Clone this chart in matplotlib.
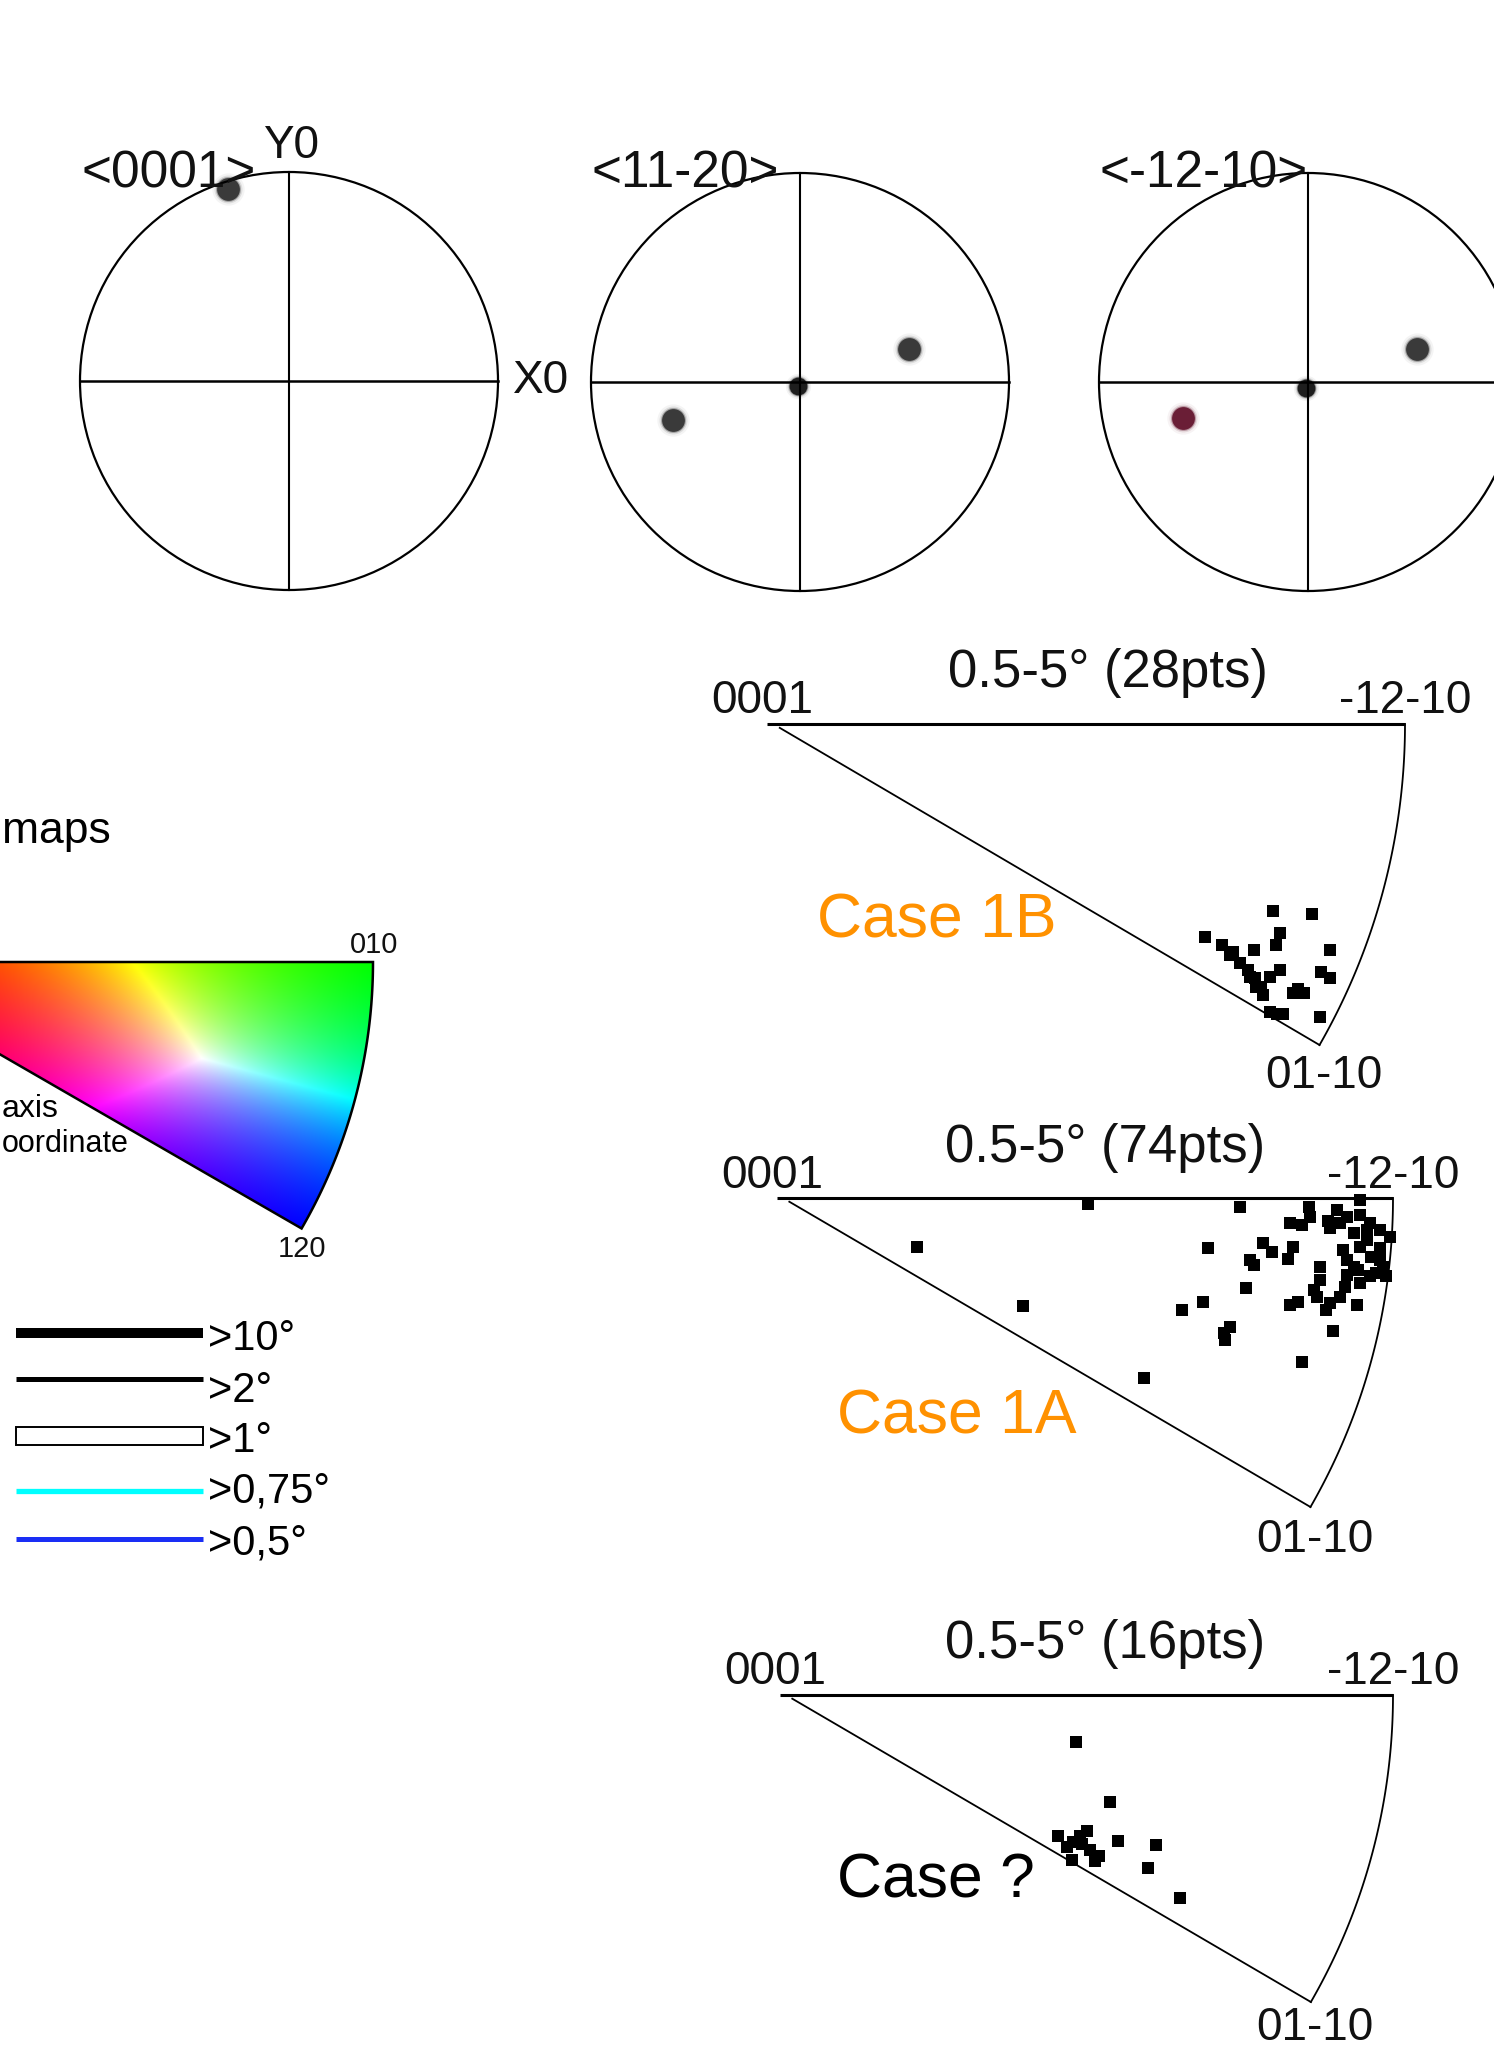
import numpy as np
import matplotlib
matplotlib.use('Agg')
import matplotlib.pyplot as plt
from matplotlib.patches import Circle, Polygon, Rectangle

# ---------------- data ----------------
pole_labels = ['<0001>', '<11-20>', '<-12-10>']
# spot positions in pole-figure units (circle radius = 1)
pole_spots_x = [[-0.29], [0.52, -0.61, -0.01], [0.52, -0.60, -0.01]]
pole_spots_y = [[0.92], [0.16, -0.18, -0.02], [0.16, -0.17, -0.03]]
pole_spots_size = [[0.9], [0.9, 0.9, 0.55], [0.9, 0.9, 0.55]]
pole_spots_color = [['#3a3a3a'], ['#3a3a3a', '#3a3a3a', '#1e1e1e'],
                    ['#3a3a3a', '#6a1e36', '#1e1e1e']]

ipf_titles = ['0.5-5° (28pts)', '0.5-5° (74pts)', '0.5-5° (16pts)']
ipf_corner_labels = ['0001', '-12-10', '01-10']
case_labels = ['Case 1B', 'Case 1A', 'Case ?']
case_colors = ['#FF9100', '#FF9100', '#000000']

# points in standard-triangle coordinates (0001 at origin, -12-10 at (1,0))
case1B_x = [0.687, 0.713, 0.726, 0.741, 0.754, 0.765, 0.775, 0.778, 0.757, 0.763,
            0.804, 0.788, 0.793, 0.854, 0.804, 0.798, 0.882, 0.868, 0.882, 0.825,
            0.841, 0.833, 0.788, 0.809, 0.867, 0.799, 0.767, 0.731]
case1B_y = [-0.331, -0.344, -0.360, -0.373, -0.383, -0.396, -0.409, -0.422, -0.394, -0.352,
            -0.383, -0.394, -0.291, -0.296, -0.325, -0.344, -0.352, -0.386, -0.395, -0.419,
            -0.419, -0.412, -0.448, -0.451, -0.456, -0.451, -0.409, -0.355]

case1A_x = [0.505, 0.752, 0.946, 0.863, 0.865, 0.852, 0.925, 0.946, 0.963, 0.898,
            0.979, 0.995, 0.936, 0.957, 0.919, 0.946, 0.979, 0.936, 0.925, 0.943,
            0.984, 0.881, 0.922, 0.876, 0.898, 0.914, 0.941, 0.892, 0.833, 0.846,
            0.903, 0.852, 0.789, 0.803, 0.838, 0.830, 0.768, 0.774, 0.700, 0.762,
            0.692, 0.657, 0.735, 0.727, 0.595, 0.400, 0.227, 0.881, 0.965, 0.973,
            0.925, 0.895, 0.914, 0.957, 0.988, 0.871, 0.946, 0.963, 0.979, 0.909,
            0.833, 0.725]
case1A_y = [-0.009, -0.014, -0.003, -0.014, -0.030, -0.044, -0.030, -0.028, -0.041, -0.049,
            -0.052, -0.063, -0.057, -0.068, -0.084, -0.079, -0.100, -0.111, -0.125, -0.117,
            -0.111, -0.133, -0.144, -0.160, -0.170, -0.160, -0.173, -0.181, -0.173, -0.168,
            -0.216, -0.265, -0.073, -0.087, -0.079, -0.098, -0.100, -0.108, -0.081, -0.146,
            -0.168, -0.181, -0.208, -0.230, -0.292, -0.175, -0.079, -0.111, -0.095, -0.122,
            -0.100, -0.038, -0.041, -0.052, -0.127, -0.149, -0.138, -0.127, -0.081, -0.019,
            -0.041, -0.219]

caseQ_x = [0.483, 0.538, 0.454, 0.500, 0.478, 0.492, 0.506, 0.514, 0.476, 0.552,
           0.614, 0.601, 0.653, 0.489, 0.468, 0.520]
caseQ_y = [-0.076, -0.174, -0.229, -0.221, -0.240, -0.242, -0.253, -0.270, -0.268, -0.237,
           -0.245, -0.281, -0.330, -0.229, -0.248, -0.262]

legend_labels = ['>10°', '>2°', '>1°', '>0,75°', '>0,5°']
legend_colors = ['#000000', '#000000', '#ffffff', '#00FFFF', '#1A2EF5']
key_labels = ['010', '120']

# ---------------- figure ----------------
W, H = 1494, 2060
fig = plt.figure(figsize=(W / 100, H / 100), dpi=100)
fig.patch.set_facecolor('white')

NARROW = ['Liberation Sans Narrow', 'Liberation Sans']
SANS = ['Liberation Sans', 'DejaVu Sans']


def box(x0, y0, x1, y1):
    ax = fig.add_axes([x0 / W, 1 - y1 / H, (x1 - x0) / W, (y1 - y0) / H])
    ax.set_axis_off()
    return ax


def ftext(x, y, s, **kw):
    kw.setdefault('va', 'baseline')
    fig.text(x / W, 1 - y / H, s, **kw)


# ---------------- pole figures ----------------
centers = [(289, 381), (800, 382), (1308, 382)]
R = 209
for i, (cx, cy) in enumerate(centers):
    ax = box(cx - R, cy - R, cx + R, cy + R)
    ax.set_xlim(-1, 1)
    ax.set_ylim(-1, 1)
    # blurred spots
    for sx, sy, ss, sc in zip(pole_spots_x[i], pole_spots_y[i],
                              pole_spots_size[i], pole_spots_color[i]):
        for k, a in [(2.0, 0.05), (1.5, 0.12), (1.2, 0.35), (1.0, 1.0)]:
            ax.scatter([sx], [sy], s=300 * ss * k, color=sc, alpha=a,
                       linewidths=0, clip_on=False, zorder=2)
    ax.add_patch(Circle((0, 0), 1, fill=False, lw=1.6, ec='black',
                        clip_on=False, zorder=3))
    ax.plot([-1, 1], [0, 0], color='black', lw=1.8, clip_on=False, zorder=3)
    ax.plot([0, 0], [-1, 1], color='black', lw=1.5, clip_on=False, zorder=3)

ftext(82, 188, pole_labels[0], family=NARROW, fontsize=37, color='#111111')
ftext(592, 188, pole_labels[1], family=NARROW, fontsize=37, color='#111111')
ftext(1100, 188, pole_labels[2], family=NARROW, fontsize=37, color='#111111')
ftext(291, 158, 'Y0', family=NARROW, fontsize=33, color='#111111', ha='center')
ftext(513, 381, 'X0', family=NARROW, fontsize=33, color='#111111', va='center')

# ---------------- colour key ----------------
kx0, kx1, ky0, ky1 = 0, 392, 945, 1240
ox, oy, KR = -160, 962, 533
key_ax = box(kx0, ky0, kx1, ky1)
xmin, xmax = (kx0 - ox) / KR, (kx1 - ox) / KR
ymax, ymin = (oy - ky0) / KR, (oy - ky1) / KR
key_ax.set_xlim(xmin, xmax)
key_ax.set_ylim(ymin, ymax)
gx = np.linspace(xmin, xmax, 600)
gy = np.linspace(ymax, ymin, 450)
GX, GY = np.meshgrid(gx, gy)
rr = np.clip(np.hypot(GX, GY), 0, 1)
ph = np.clip(np.degrees(np.arctan2(-GY, GX)) / 30.0, 0, 1)
t = rr ** 1.15
cr, cg, cb = 1 - t, t * (1 - ph), t * ph
mx = np.maximum(np.maximum(cr, cg), cb)
rgb = np.dstack([cr / mx, cg / mx, cb / mx])
ang = np.radians(np.linspace(0, -30, 60))
tri = np.vstack([[[0, 0]], np.column_stack([np.cos(ang), np.sin(ang)]), [[0, 0]]])
clip = Polygon(tri, closed=True, transform=key_ax.transData, fill=False)
im = key_ax.imshow(rgb, extent=[xmin, xmax, ymin, ymax], origin='upper',
                   interpolation='bilinear', aspect='auto')
im.set_clip_path(clip)
key_ax.add_patch(Polygon(tri, closed=True, fill=False, ec='black', lw=1.8,
                         clip_on=False))
ftext(374, 953, key_labels[0], family=NARROW, fontsize=21, ha='center',
      color='#111111')
ftext(302, 1257, key_labels[1], family=NARROW, fontsize=21, ha='center',
      color='#111111')

ftext(2, 843, 'maps', family=SANS, fontsize=32)
ftext(2, 1117, 'axis', family=SANS, fontsize=23)
ftext(2, 1152, 'oordinate', family=SANS, fontsize=22)

# ---------------- misorientation legend ----------------
leg_y = [1333, 1379, 1436, 1491, 1539]
leg_base = [1350, 1402, 1452, 1503, 1555]
leg_lw = [7.2, 3.6, 0, 3.8, 3.6]
leg_ax = box(0, 1280, 420, 1600)
leg_ax.set_xlim(0, 420)
leg_ax.set_ylim(1600, 1280)
for lab, col, yy, lw in zip(legend_labels, legend_colors, leg_y, leg_lw):
    if lab == '>1°':
        leg_ax.add_patch(Rectangle((16, yy - 9), 187, 18, fc='white',
                                   ec='black', lw=1.4))
    else:
        leg_ax.plot([16, 203], [yy, yy], color=col, lw=lw,
                    solid_capstyle='butt')
for lab, yb in zip(legend_labels, leg_base):
    ftext(208, yb, lab, family=SANS, fontsize=30)

# ---------------- inverse pole figures ----------------
ipf_boxes = [(767, 724, 1405, 1045), (777, 1198, 1393, 1507), (780, 1695, 1393, 2002)]
ipf_data = [(case1B_x, case1B_y), (case1A_x, case1A_y), (caseQ_x, caseQ_y)]
title_pos = [(1108, 687), (1105, 1162), (1105, 1658)]
corner_base = [(713, 1088), (1188, 1552), (1684, 2040)]
case_pos = [(817, 937), (837, 1434), (837, 1898)]
for i, (x0, y0, x1, y1) in enumerate(ipf_boxes):
    ax = box(x0, y0, x1, y1)
    ax.set_xlim(0, 1)
    ax.set_ylim(-0.5, 0)
    a = np.radians(np.linspace(0, -30, 80))
    ax.plot([0, 1], [0, 0], color='black', lw=2.2, clip_on=False,
            solid_capstyle='butt')
    ax.plot(np.cos(a), np.sin(a), color='black', lw=1.3, clip_on=False)
    ax.plot([0.02, np.cos(np.radians(30))], [-0.006, -0.5], color='black',
            lw=1.3, clip_on=False)
    px, py = ipf_data[i]
    ax.scatter(px, py, marker='s', s=72, color='black', linewidths=0,
               clip_on=False, zorder=3)
    tx, tb = title_pos[i]
    ftext(tx, tb, ipf_titles[i], family=SANS, fontsize=38, ha='center',
          color='#111111')
    cb0, cb1 = corner_base[i]
    tipx = x0 + np.cos(np.radians(30)) * (x1 - x0)
    ftext(x0 - 5, cb0, ipf_corner_labels[0], family=NARROW, fontsize=33,
          ha='center', color='#111111')
    ftext(x1, cb0, ipf_corner_labels[1], family=NARROW, fontsize=33,
          ha='center', color='#111111')
    ftext(tipx + 4, cb1, ipf_corner_labels[2], family=NARROW, fontsize=33,
          ha='center', color='#111111')
    cx, cbl = case_pos[i]
    ftext(cx, cbl, case_labels[i], family=SANS, fontsize=45,
          color=case_colors[i])

fig.savefig('out.png', dpi=100, facecolor='white')
